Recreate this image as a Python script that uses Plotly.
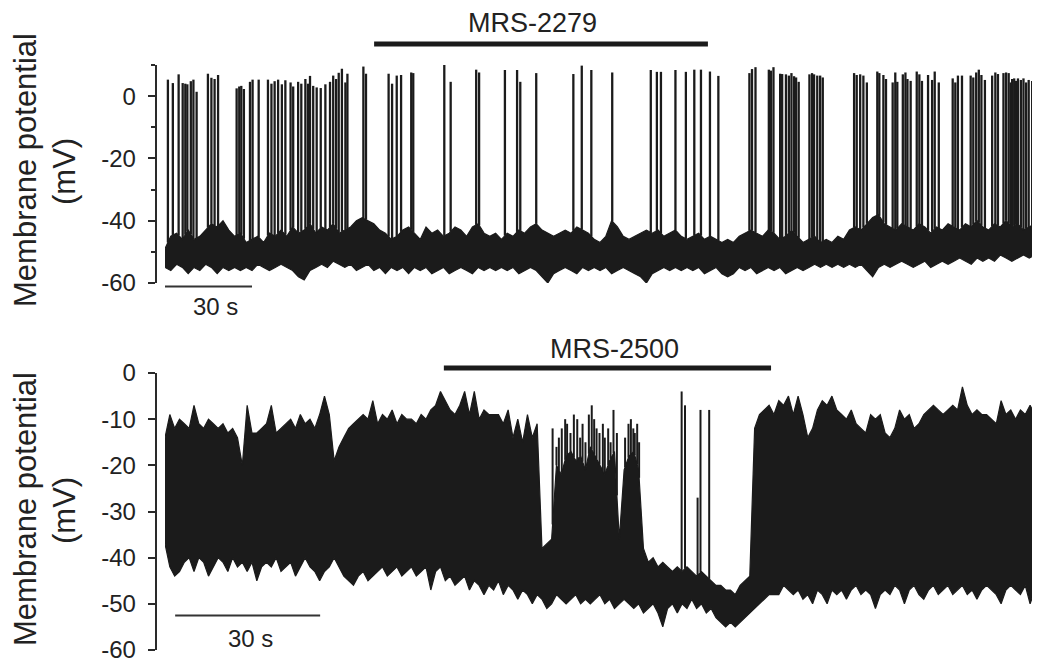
import numpy as np
import plotly.graph_objects as go

# ---------------- data ----------------
# Top trace (MRS-2279): time in s, membrane potential in mV
top_band_t = [0, 2, 4, 6, 8, 10, 12, 14, 16, 18,
              20, 22, 24, 26, 28, 30, 32, 34, 36, 38,
              40, 42, 44, 46, 48, 50, 52, 54, 56, 58,
              60, 62, 64, 66, 68, 70, 72, 74, 76, 78,
              80, 82, 84, 86, 88, 90, 92, 94, 96, 98,
              100, 102, 104, 106, 108, 110, 112, 114, 116, 118,
              120, 122, 124, 126, 128, 130, 132, 134, 136, 138,
              140, 142, 144, 146, 148, 150, 152, 154, 156, 158,
              160, 162, 164, 166, 168, 170, 172, 174, 176, 178,
              180, 182, 184, 186, 188, 190, 192, 194, 196, 198,
              200, 202, 204, 206, 208, 210, 212, 214, 216, 218,
              220, 222, 224, 226, 228, 230, 232, 234, 236, 238,
              240, 242, 244, 246, 248, 250, 252, 254, 256, 258,
              260, 262, 264, 266, 268, 270, 272, 274, 276, 278,
              280, 282, 284, 286, 288, 290, 292, 294, 296, 298,
              300, 301.7]
top_band_hi = [-49, -45, -44, -46, -43, -46, -45, -43, -41, -42,
               -40, -43, -45, -44, -47, -46, -45, -47, -44, -45,
               -43, -45, -42, -44, -43, -41, -44, -42, -43, -41,
               -44, -43, -42, -40, -39, -40, -41, -43, -44, -46,
               -45, -43, -42, -44, -46, -42, -44, -43, -45, -44,
               -42, -43, -45, -42, -41, -44, -45, -44, -46, -44,
               -45, -43, -44, -42, -41, -43, -44, -45, -44, -43,
               -44, -42, -43, -44, -46, -47, -45, -40, -42, -45,
               -46, -45, -44, -43, -44, -43, -45, -44, -43, -45,
               -46, -45, -44, -46, -45, -46, -47, -46, -47, -45,
               -44, -43, -44, -45, -43, -44, -46, -45, -43, -45,
               -47, -46, -45, -47, -46, -47, -45, -46, -43, -42,
               -43, -41, -39, -38, -41, -42, -43, -41, -42, -43,
               -41, -42, -44, -42, -43, -41, -42, -43, -41, -42,
               -40, -42, -43, -41, -42, -40, -42, -41, -43, -42,
               -41, -42]
top_band_lo = [-55, -56, -54, -55, -57, -55, -56, -54, -55, -57,
               -55, -56, -55, -56, -55, -56, -54, -55, -56, -55,
               -54, -55, -56, -58, -59, -56, -55, -54, -55, -53,
               -54, -55, -54, -56, -55, -54, -56, -55, -57, -55,
               -56, -55, -57, -55, -56, -55, -57, -56, -55, -57,
               -56, -55, -56, -57, -55, -56, -55, -56, -55, -56,
               -55, -57, -56, -55, -56, -58, -60, -57, -56, -55,
               -56, -57, -55, -56, -55, -56, -55, -57, -56, -55,
               -56, -57, -58, -60, -57, -56, -55, -56, -55, -56,
               -55, -56, -55, -57, -56, -55, -57, -58, -57, -55,
               -56, -55, -57, -56, -55, -56, -55, -57, -56, -55,
               -56, -55, -54, -55, -54, -55, -54, -55, -54, -55,
               -54, -56, -58, -55, -54, -55, -54, -53, -54, -55,
               -54, -53, -55, -54, -53, -54, -53, -52, -53, -54,
               -52, -53, -52, -53, -51, -52, -53, -52, -51, -52,
               -51, -52]
top_spike_t = [1.0, 2.7, 4.7, 6.1, 7.0, 7.7, 8.9, 9.8, 10.9,
               14.8, 16.0, 17.1, 18.3, 24.7, 25.6, 26.3, 27.2, 29.3, 30.2, 32.3,
               35.5, 36.7, 37.8, 39.0, 40.3, 41.5, 43.3, 44.2, 45.9, 47.0,
               48.4, 49.3, 50.0, 51.1, 52.3, 53.7, 55.3, 56.9, 58.0, 59.0,
               59.9, 61.0, 62.2, 62.9, 68.4, 69.3, 77.1, 78.3, 79.9,
               81.4, 84.9, 85.6, 96.3, 98.5, 107.3, 108.3, 117.2, 121.4, 122.5,
               128.0, 140.8, 143.7, 147.0, 154.2, 167.5, 169.6, 171.0, 176.0, 179.6,
               182.5, 184.8, 187.9, 190.8,
               201.5, 202.4, 203.6, 208.2, 208.9, 209.8, 212.1, 212.8, 214.1, 215.1,
               216.0, 216.9, 217.6, 218.5, 222.2, 223.1, 223.8, 224.9, 225.9, 226.8,
               237.6, 238.5, 239.7, 240.8, 242.0, 245.6, 246.3, 247.7, 248.6, 250.9,
               251.8, 252.5, 254.4, 255.3, 256.0, 257.1, 259.2, 260.1, 261.0, 263.1,
               264.5, 265.4, 266.8, 271.6, 272.5, 273.4, 274.8, 277.8, 278.7, 279.7,
               280.6, 281.5, 282.7, 285.2, 286.3, 287.2, 289.1, 290.0, 290.9, 291.6,
               292.1, 292.8, 293.4, 294.1, 295.1, 296.0, 296.9, 297.8, 299.0, 300.1,
               301.3]
top_spike_peak = [5.3, 4.2, 7.0, 4.2, 4.0, 3.8, 4.8, 5.3, 1.4,
                  7.2, 5.9, 5.5, 6.8, 2.5, 3.1, 3.3, 2.3, 4.6, 5.3, 5.3,
                  5.3, 4.0, 4.8, 5.3, 3.8, 5.1, 4.4, 3.1, 4.6, 4.0,
                  5.5, 4.0, 6.5, 3.3, 2.8, 2.6, 3.8, 4.6, 6.6, 5.5,
                  7.5, 8.8, 4.4, 7.2, 9.5, 7.2, 7.2, 4.0, 6.6,
                  6.8, 7.6, 7.4, 10.0, 4.6, 8.5, 7.6, 8.4, 8.4, 4.6,
                  7.4, 7.1, 9.8, 8.4, 7.6, 8.4, 7.8, 7.8, 8.4, 7.8,
                  8.5, 8.5, 7.9, 6.5,
                  7.4, 8.7, 9.3, 8.5, 8.2, 9.3, 7.2, 7.1, 7.0, 6.6,
                  7.4, 6.4, 6.0, 4.6, 7.0, 7.4, 7.0, 6.6, 6.6, 6.0,
                  7.4, 6.8, 7.0, 6.6, 4.4, 7.9, 7.4, 6.8, 5.5, 4.4,
                  7.6, 4.6, 7.0, 7.6, 5.5, 4.9, 7.9, 7.0, 4.9, 6.8,
                  5.2, 7.9, 4.4, 5.7, 4.4, 6.6, 6.6, 6.6, 6.0, 7.6,
                  8.5, 6.8, 5.2, 6.6, 7.6, 7.1, 7.4, 7.6, 7.4, 4.4,
                  5.5, 5.7, 4.9, 5.7, 5.2, 5.7, 4.4, 5.2, 4.9, 4.4,
                  3.9]

# Bottom trace (MRS-2500)
bot_band_t = [0, 1, 2, 3, 4, 5, 6, 7, 8, 9,
              10, 11, 12, 13, 14, 15, 16, 17, 18, 19,
              20, 21, 22, 23, 24, 25, 26, 27, 28, 29,
              30, 31, 32, 33, 34, 35, 36, 37, 38, 39,
              40, 41, 42, 43, 44, 45, 46, 47, 48, 49,
              50, 51, 52, 53, 54, 55, 56, 57, 58, 59,
              60, 61, 62, 63, 64, 65, 66, 67, 68, 69,
              70, 71, 72, 73, 74, 75, 76, 77, 78, 79,
              80, 81, 82, 83, 84, 85, 86, 87, 88, 89,
              90, 91, 92, 93, 94, 95, 96, 97, 98, 99,
              100, 101, 102, 103, 104, 105, 106, 107, 108, 109,
              110, 111, 112, 113, 114, 115, 116, 117, 118, 119,
              120, 121, 122, 123, 124, 125, 126, 127, 128, 129,
              130, 131, 132, 133, 134, 135, 136, 137, 138, 139,
              140, 141, 142, 143, 144, 145, 146, 147, 148, 149,
              150, 151, 152, 153, 154, 155, 156, 157, 158, 159,
              160, 161, 162, 163, 164, 165, 166, 167, 168, 169,
              170, 171, 172, 173, 174, 175, 176, 177, 178, 179,
              180, 181]
bot_band_hi = [-14, -9, -12, -10, -11, -12, -7, -11, -12, -10,
               -11, -12, -11, -13, -12, -14, -20, -7, -13, -13,
               -12, -11, -7, -13, -12, -11, -10, -12, -9, -11,
               -10, -12, -9, -5, -9, -19, -16, -14, -12, -11,
               -10, -9, -10, -6, -11, -9, -10, -8, -11, -9,
               -10, -10, -11, -9, -10, -8, -7, -4, -6, -8,
               -9, -7, -4, -9, -4, -10, -8, -9, -9, -9,
               -11, -8, -14, -10, -15, -9, -14, -11, -38, -37,
               -36, -20, -22, -18, -17, -19, -18, -21, -16, -18,
               -20, -22, -19, -17, -36, -21, -18, -17, -21, -38,
               -41, -40, -42, -41, -42, -43, -42, -43, -42, -43,
               -44, -43, -44, -45, -46, -46, -47, -47, -48, -46,
               -45, -44, -12, -9, -8, -7, -9, -6, -7, -5,
               -9, -5, -9, -14, -12, -8, -6, -7, -5, -8,
               -9, -10, -8, -11, -12, -13, -9, -10, -9, -13,
               -14, -12, -8, -10, -9, -12, -11, -9, -8, -7,
               -8, -9, -8, -7, -8, -3, -7, -9, -8, -9,
               -9, -10, -11, -6, -9, -8, -10, -8, -9, -7,
               -9, -8]
bot_band_lo = [-37, -42, -44, -43, -41, -40, -43, -40, -41, -44,
               -42, -40, -41, -43, -40, -42, -41, -43, -41, -45,
               -42, -41, -42, -40, -43, -42, -41, -44, -42, -40,
               -42, -43, -45, -43, -42, -40, -42, -44, -45, -46,
               -44, -43, -45, -44, -43, -42, -44, -43, -42, -44,
               -43, -42, -44, -43, -42, -47, -43, -42, -45, -44,
               -46, -45, -44, -47, -45, -46, -48, -46, -47, -45,
               -48, -46, -47, -49, -47, -48, -50, -48, -49, -51,
               -50, -48, -49, -50, -49, -48, -50, -49, -50, -49,
               -48, -50, -49, -51, -50, -49, -50, -51, -50, -52,
               -51, -50, -52, -55, -51, -50, -52, -50, -51, -49,
               -51, -50, -52, -51, -53, -54, -55, -54, -55, -54,
               -53, -52, -51, -50, -49, -48, -48, -48, -46, -47,
               -48, -47, -49, -48, -50, -47, -48, -50, -47, -48,
               -47, -49, -47, -46, -48, -47, -48, -51, -48, -47,
               -48, -46, -47, -50, -47, -46, -48, -49, -47, -46,
               -48, -47, -46, -48, -47, -46, -48, -47, -49, -47,
               -46, -47, -48, -50, -47, -46, -47, -48, -46, -50,
               -47, -46]
bot_spike_t = [80.2, 81.0, 81.5, 82.1, 82.8, 83.2, 83.9, 84.6, 85.3, 85.9,
               86.4, 87.0, 87.7, 88.3, 88.8, 89.3, 89.9, 90.6, 91.0, 91.7,
               92.2, 92.8, 93.5, 95.2, 95.9, 96.4, 96.9, 97.2, 97.7, 98.1,
               106.9, 107.6, 110.2, 110.8, 112.6]
bot_spike_peak = [-12, -16, -14, -12, -10, -11, -13, -9, -10, -14,
                  -11, -15, -9, -7, -10, -12, -13, -11, -14, -12,
                  -15, -8, -13, -14, -11, -10, -12, -13, -11, -15,
                  -4, -7, -27, -8, -8]

top_tick_major = [-60, -40, -20, 0]
top_tick_minor = [-50, -30, -10, 10]
bot_tick_vals = [-60, -50, -40, -30, -20, -10, 0]

top_drug = ("MRS-2279", 72.1, 187.2)
bot_drug = ("MRS-2500", 57.7, 125.4)
scale_len = 30
top_scale_start = 0.0
bot_scale_start = 2.1

# ---------------- figure ----------------
# The page body has an 8 px margin, so the figure is 8 px smaller and every
# position below is given in page pixels and shifted by that margin.
OFF = 8
W, H = 1040 - OFF, 665 - OFF
INK = "#1b1b1b"
AX = "#2a2a2a"
FONT = "Liberation Sans, Arial, Helvetica, sans-serif"


def px_x(p):
    return (p - OFF) / W


def px_y(p):
    return 1 - (p - OFF) / H


def band(t, hi, lo, xa, ya):
    x = list(t) + list(t)[::-1]
    y = list(hi) + list(lo)[::-1]
    return go.Scatter(x=x, y=y, mode="lines", fill="toself", fillcolor=INK,
                      line=dict(color=INK, width=1.2), xaxis=xa, yaxis=ya,
                      hoverinfo="skip", showlegend=False)


def spikes(st, sp, t, hi, xa, ya, w):
    base = np.interp(st, t, hi)
    xs, ys = [], []
    for s, b, p in zip(st, base, sp):
        xs += [s, s, None]
        ys += [b, p, None]
    return go.Scatter(x=xs, y=ys, mode="lines", line=dict(color=INK, width=w),
                      xaxis=xa, yaxis=ya, hoverinfo="skip", showlegend=False)


fig = go.Figure()
fig.add_trace(band(top_band_t, top_band_hi, top_band_lo, "x", "y"))
fig.add_trace(spikes(top_spike_t, top_spike_peak, top_band_t, top_band_hi, "x", "y", 2.3))
fig.add_trace(band(bot_band_t, bot_band_hi, bot_band_lo, "x2", "y2"))
fig.add_trace(spikes(bot_spike_t, bot_spike_peak, bot_band_t, bot_band_hi, "x2", "y2", 2.0))

yax_common = dict(showline=True, linecolor=AX, linewidth=1.6, ticks="outside",
                  ticklen=7, tickwidth=1.6, tickcolor=AX, showgrid=False,
                  zeroline=False, anchor="free", position=px_x(155.5),
                  automargin=False,
                  tickfont=dict(family=FONT, size=24, color="#222222"),
                  ticklabelstandoff=7, fixedrange=True)

fig.update_layout(
    template="none",
    width=W, height=H, autosize=False,
    margin=dict(l=0, r=0, t=0, b=0, pad=0),
    paper_bgcolor="white", plot_bgcolor="white",
    showlegend=False,
    xaxis=dict(domain=[px_x(165), 1], range=[0, 301.7], visible=False,
               anchor="y", automargin=False),
    yaxis=dict(domain=[px_y(283), px_y(65)], range=[-60, 10],
               tickmode="array", tickvals=top_tick_major,
               ticktext=[str(v) for v in top_tick_major],
               minor=dict(tickmode="array", tickvals=top_tick_minor, ticks="outside",
                          ticklen=3.5, tickwidth=1.6, tickcolor=AX, showgrid=False),
               **yax_common),
    xaxis2=dict(domain=[px_x(165), 1], range=[0, 181.05], visible=False,
                anchor="y2", automargin=False),
    yaxis2=dict(domain=[px_y(650), px_y(373)], range=[-60, 0],
                tickmode="array", tickvals=bot_tick_vals,
                ticktext=[str(v) for v in bot_tick_vals],
                **yax_common),
)

shapes = []
# drug application bars
shapes.append(dict(type="line", xref="x", yref="paper", x0=top_drug[1], x1=top_drug[2],
                   y0=px_y(44), y1=px_y(44), line=dict(color=INK, width=5)))
shapes.append(dict(type="line", xref="x2", yref="paper", x0=bot_drug[1], x1=bot_drug[2],
                   y0=px_y(368), y1=px_y(368), line=dict(color=INK, width=5)))
# 30 s scale bars
shapes.append(dict(type="line", xref="x", yref="paper", x0=top_scale_start,
                   x1=top_scale_start + scale_len, y0=px_y(286.5), y1=px_y(286.5),
                   line=dict(color="#333333", width=2)))
shapes.append(dict(type="line", xref="x2", yref="paper", x0=bot_scale_start,
                   x1=bot_scale_start + scale_len, y0=px_y(615.5), y1=px_y(615.5),
                   line=dict(color="#333333", width=2)))
fig.update_layout(shapes=shapes)

ann = []
txt = dict(family=FONT, color="#222222")
# drug labels
ann.append(dict(text=top_drug[0], xref="x", yref="paper", x=(top_drug[1] + top_drug[2]) / 2 - 3,
                y=px_y(22.5), showarrow=False, xanchor="center", yanchor="middle",
                font=dict(size=27, **txt)))
ann.append(dict(text=bot_drug[0], xref="x2", yref="paper", x=(bot_drug[1] + bot_drug[2]) / 2 + 1.5,
                y=px_y(348.5), showarrow=False, xanchor="center", yanchor="middle",
                font=dict(size=27, **txt)))
# scale labels
ann.append(dict(text=f"{scale_len} s", xref="x", yref="paper",
                x=top_scale_start + scale_len / 2 + 2.5, y=px_y(307), showarrow=False,
                xanchor="center", yanchor="middle", font=dict(size=24, **txt)))
ann.append(dict(text=f"{scale_len} s", xref="x2", yref="paper",
                x=bot_scale_start + scale_len / 2 + 0.5, y=px_y(638), showarrow=False,
                xanchor="center", yanchor="middle", font=dict(size=24, **txt)))
# y axis titles (two lines each)
for yc in (170, 509):
    ann.append(dict(text="Membrane potential", xref="paper", yref="paper",
                    x=px_x(25), y=px_y(yc), textangle=-90, showarrow=False,
                    xanchor="center", yanchor="middle", font=dict(size=31, **txt)))
    ann.append(dict(text="(mV)", xref="paper", yref="paper",
                    x=px_x(64), y=px_y(yc + 2), textangle=-90, showarrow=False,
                    xanchor="center", yanchor="middle", font=dict(size=31, **txt)))
fig.update_layout(annotations=ann)

fig.write_html("out.html")
